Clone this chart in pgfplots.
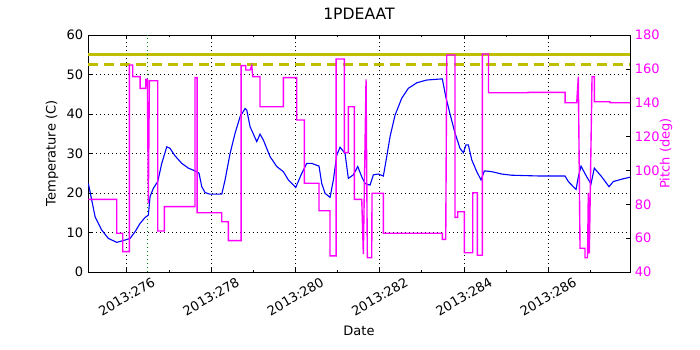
\documentclass[border=0pt]{standalone}
\usepackage{fontspec}
\setmainfont{DejaVu Sans}
\usepackage{pgfplots}
\pgfplotsset{compat=1.18}
\definecolor{mplblue}{rgb}{0,0,1}
\definecolor{mplmag}{rgb}{1,0,1}
\definecolor{mplolive}{rgb}{0.75,0.75,0}
\definecolor{mplgreen}{rgb}{0,0.5,0}

\begin{document}
\begin{tikzpicture}
\path[use as bounding box] (0,0) rectangle (7in,3.5in);
\pgfplotsset{
  common/.style={
    scale only axis, width=5.42in, height=2.37in,
    at={(0.88in,0.78in)}, anchor=south west,
    xmin=275.08, xmax=287.94,
    tick label style={font=\fontsize{9.4}{11}\selectfont},
    label style={font=\fontsize{9.4}{11}\selectfont},
    /pgf/number format/assume math mode=true,
    major tick length=0.04in, minor tick length=0.02in,
    axis line style={black, line width=0.6pt},
    tick style={black, line width=0.5pt},
  }
}
% temperature (left axis)
\begin{axis}[common,
  ymin=0, ymax=60, ytick={0,10,...,60}, ytick pos=left,
  xtick={276,278,...,286},
  xticklabels={2013:276,2013:278,2013:280,2013:282,2013:284,2013:286},
  minor xtick={277,279,...,287},
  xticklabel pos=lower,
  grid=major, grid style={black, line width=0.4pt, dash pattern=on 0.7pt off 2.2pt},
  xticklabel style={yshift=-0.245in, rotate=30, anchor=center},
  xlabel=Date, xlabel style={at={(axis description cs:0.5,-0.249)}, anchor=center},
  ylabel={Temperature (C)},
  ylabel style={at={(axis description cs:-0.0664,0.5)}, anchor=center},
  title=1PDEAAT,
  title style={at={(axis description cs:0.5,1.055)}, anchor=center, font=\fontsize{11.3}{13}\selectfont},
]
\addplot[mplolive, line width=2pt] coordinates {(275.08,55) (287.94,55)};
\addplot[mplolive, line width=2pt, dash pattern=on 7.2pt off 4.3pt] coordinates {(275.08,52.5) (287.94,52.5)};
\addplot[mplgreen, line width=0.8pt, dash pattern=on 0.7pt off 2.2pt] coordinates {(276.5,0) (276.5,60)};
\addplot[mplblue, line width=0.8pt] coordinates {
(275.089,22.4) (275.248,14.0) (275.407,10.6) (275.563,8.5) (275.763,7.5)
(275.960,8.1) (276.078,8.5) (276.197,10.2) (276.316,12.3) (276.434,13.8)
(276.512,14.4) (276.553,19.1) (276.631,21.2) (276.735,22.9) (276.830,27.5)
(276.949,31.7) (277.027,31.3) (277.146,29.4) (277.305,27.5) (277.461,26.3)
(277.661,25.4) (277.715,25.0) (277.779,21.6) (277.858,20.1) (277.976,19.7)
(278.254,19.7) (278.332,23.3) (278.451,30.0) (278.569,35.1) (278.688,39.3)
(278.807,41.4) (278.847,41.0) (278.925,36.8) (279.084,33.0) (279.162,34.9)
(279.241,33.4) (279.400,29.2) (279.559,26.7) (279.715,25.4) (279.834,23.3)
(280.009,21.4) (280.152,25.0) (280.270,27.5) (280.389,27.5) (280.562,26.8)
(280.626,22.4) (280.705,19.9) (280.823,18.9) (280.902,23.3) (280.982,29.6)
(281.061,31.6) (281.179,30.0) (281.257,23.7) (281.376,24.6) (281.480,26.7)
(281.575,24.1) (281.654,22.4) (281.772,22.0) (281.851,24.6) (281.969,24.8)
(282.088,24.3) (282.168,29.2) (282.247,34.3) (282.365,39.7) (282.524,44.0)
(282.681,46.5) (282.880,47.9) (283.117,48.6) (283.487,48.9) (283.568,44.4)
(283.670,40.0) (283.789,35.1) (283.907,31.3) (283.986,30.2) (284.050,32.2)
(284.104,32.2) (284.185,28.4) (284.304,25.4) (284.406,23.3) (284.484,25.6)
(284.660,25.4) (284.897,24.8) (285.134,24.5) (285.805,24.3) (286.399,24.3)
(286.477,22.9) (286.660,20.9) (286.714,24.1) (286.778,26.8) (286.913,24.1)
(287.015,22.3) (287.093,26.3) (287.269,24.1) (287.442,21.6) (287.544,22.9)
(287.744,23.5) (287.941,24.0)
};
\end{axis}
% pitch (right axis)
\begin{axis}[common,
  axis x line=none, axis y line*=right,
  ymin=40, ymax=180, ytick={40,60,...,180},
  yticklabel style={text=mplmag},
  ylabel={Pitch (deg)},
  ylabel style={text=mplmag, at={(axis description cs:1.0664,0.5)}, anchor=center},
]
\addplot[mplmag, line width=1pt] coordinates {
(275.089,82.9) (275.763,82.9) (275.763,62.9) (275.905,62.9) (275.905,52.0)
(276.062,52.0) (276.062,162.3) (276.142,162.3) (276.142,155.4) (276.316,155.4)
(276.316,148.5) (276.451,148.5) (276.451,153.8) (276.489,153.8) (276.512,80.6)
(276.536,153.0) (276.735,153.0) (276.735,64.2) (276.892,64.2) (276.892,78.6)
(277.620,78.6) (277.620,154.8) (277.668,154.8) (277.668,75.0) (278.254,75.0)
(278.254,69.7) (278.410,69.7) (278.410,58.5) (278.712,58.5) (278.712,161.9)
(278.823,161.9) (278.823,159.3) (278.925,159.3) (278.966,161.9) (278.989,155.4)
(279.162,155.4) (279.162,137.6) (279.715,137.6) (279.715,154.8) (280.033,154.8)
(280.033,129.8) (280.213,129.8) (280.213,92.4) (280.562,92.4) (280.562,76.2)
(280.823,76.2) (280.823,49.5) (280.966,49.5) (280.966,165.8) (281.162,165.8)
(281.162,110.5) (281.257,110.5) (281.257,137.6) (281.400,137.6) (281.400,82.9)
(281.575,82.9) (281.613,50.6) (281.677,153.8) (281.708,48.4) (281.812,48.4)
(281.819,86.5) (282.088,86.5) (282.088,62.9) (283.487,62.9) (283.487,59.3)
(283.568,59.3) (283.592,168.2) (283.789,168.2) (283.789,72.3) (283.853,72.3)
(283.853,75.6) (284.010,75.6) (284.010,51.4) (284.209,51.4) (284.209,86.8)
(284.318,86.8) (284.318,49.9) (284.437,49.9) (284.437,168.8) (284.583,168.8)
(284.583,145.9) (285.521,145.9) (285.521,146.1) (286.399,146.1) (286.399,140.0)
(286.676,140.0) (286.714,155.4) (286.754,54.0) (286.873,54.0) (286.873,48.4)
(286.932,48.4) (286.951,86.8) (286.975,51.0) (287.039,155.4) (287.093,155.4)
(287.093,140.6) (287.465,140.6) (287.465,140.0) (287.941,140.0)
};
\end{axis}
\end{tikzpicture}
\end{document}
